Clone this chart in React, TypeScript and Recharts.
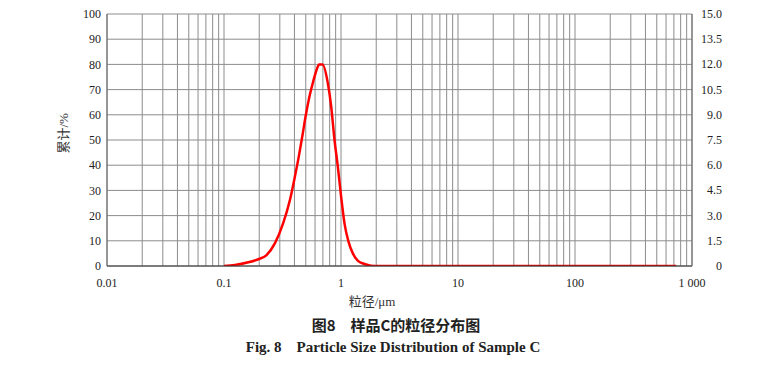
import { CartesianGrid, Line, LineChart, XAxis, YAxis } from "recharts"

// particle size (µm) and frequency (%)
const sizes = [
  0.1, 0.124, 0.161, 0.196, 0.231, 0.272, 0.32, 0.366, 0.403, 0.438, 0.469,
  0.501, 0.534, 0.578, 0.618, 0.65, 0.695, 0.771, 0.824, 0.88, 0.94, 1.003,
  1.071, 1.159, 1.262, 1.39, 1.585, 1.8, 2.1, 3, 5, 10, 20, 50, 100, 200, 500,
  733,
]
const freq = [
  0, 0.06, 0.22, 0.4, 0.65, 1.35, 2.54, 3.93, 5.3, 6.6, 7.8, 9.0, 10.0, 10.97,
  11.67, 12.0, 12.0, 10.9, 9.5, 7.5, 5.9, 4.12, 2.54, 1.45, 0.75, 0.32, 0.12,
  0.02, 0, 0, 0, 0, 0, 0, 0, 0, 0, 0,
]

const decades = [0.01, 0.1, 1, 10, 100, 1000]
const leftTicks = [0, 10, 20, 30, 40, 50, 60, 70, 80, 90, 100]
const rightTicks = [0, 1.5, 3, 4.5, 6, 7.5, 9, 10.5, 12, 13.5, 15]

const data = sizes.map((s, i) => ({ size: s, freq: freq[i] }))

// every 1..9 multiple inside each decade gets a grid line
const xTicks: number[] = []
decades.slice(0, -1).forEach((d) => {
  for (let k = 1; k < 10; k++) xTicks.push(+(d * k).toPrecision(3))
})
xTicks.push(1000)

const serif = "'Liberation Serif', 'Noto Sans CJK SC', serif"

const fmtX = (v: number) => {
  if (!decades.includes(v)) return ""
  return v === 1000 ? "1 000" : String(v)
}

const RightTick = ({ x, y, payload }: any) => (
  <text
    x={x + 30}
    y={y}
    dy={4}
    textAnchor="end"
    fontSize={12}
    fontFamily={serif}
    fill="#222"
  >
    {payload.value === 0 ? "0" : Number(payload.value).toFixed(1)}
  </text>
)

export default function App() {
  return (
    <div
      style={{
        position: "absolute",
        left: 0,
        top: 0,
        width: 777,
        height: 373,
        background: "#fff",
        fontFamily: serif,
      }}
    >
      <LineChart
        width={777}
        height={373}
        data={data}
        margin={{ top: 14, right: 34, bottom: 77, left: 57 }}
      >
        <CartesianGrid yAxisId="left" stroke="#8c8c8c" strokeWidth={1} />
        <XAxis
          dataKey="size"
          type="number"
          scale="log"
          domain={[0.01, 1000]}
          ticks={xTicks}
          tickFormatter={fmtX}
          interval={0}
          allowDataOverflow
          height={30}
          tickLine={false}
          tickSize={0}
          tickMargin={12}
          axisLine={{ stroke: "#333" }}
          tick={{ fontSize: 12, fontFamily: serif, fill: "#222" }}
        />
        <YAxis
          yAxisId="left"
          type="number"
          domain={[0, 100]}
          allowDataOverflow
          ticks={leftTicks}
          interval={0}
          width={50}
          tickLine={false}
          tickSize={0}
          tickMargin={6}
          axisLine={{ stroke: "#666" }}
          tick={{ fontSize: 12, fontFamily: serif, fill: "#222" }}
        />
        <YAxis
          yAxisId="right"
          type="number"
          orientation="right"
          domain={[0, 15]}
          allowDataOverflow
          ticks={rightTicks}
          interval={0}
          width={51}
          tickLine={false}
          tickSize={0}
          tickMargin={0}
          axisLine={{ stroke: "#666" }}
          tick={<RightTick />}
        />
        <Line
          yAxisId="right"
          dataKey="freq"
          type="monotone"
          stroke="#ff0000"
          strokeWidth={2.5}
          dot={false}
          isAnimationActive={false}
        />
      </LineChart>
      <div
        style={{
          position: "absolute",
          left: 42,
          top: 124,
          width: 40,
          textAlign: "center",
          fontSize: 13,
          color: "#333",
          transform: "rotate(-90deg)",
          whiteSpace: "nowrap",
        }}
      >
        累计/%
      </div>
      <div
        style={{
          position: "absolute",
          left: 322,
          top: 291,
          width: 100,
          textAlign: "center",
          fontSize: 13,
          color: "#333",
        }}
      >
        粒径/μm
      </div>
      <div
        style={{
          position: "absolute",
          left: 0,
          top: 314,
          width: 792,
          textAlign: "center",
          fontSize: 15,
          fontWeight: "bold",
          fontFamily: "'Noto Sans CJK SC', sans-serif",
          color: "#222",
          whiteSpace: "pre",
        }}
      >
        {"图8　样品C的粒径分布图"}
      </div>
      <div
        style={{
          position: "absolute",
          left: 0,
          top: 339,
          width: 786,
          textAlign: "center",
          fontSize: 15,
          fontWeight: "bold",
          color: "#222",
          whiteSpace: "pre",
        }}
      >
        {"Fig. 8    Particle Size Distribution of Sample C"}
      </div>
    </div>
  )
}
